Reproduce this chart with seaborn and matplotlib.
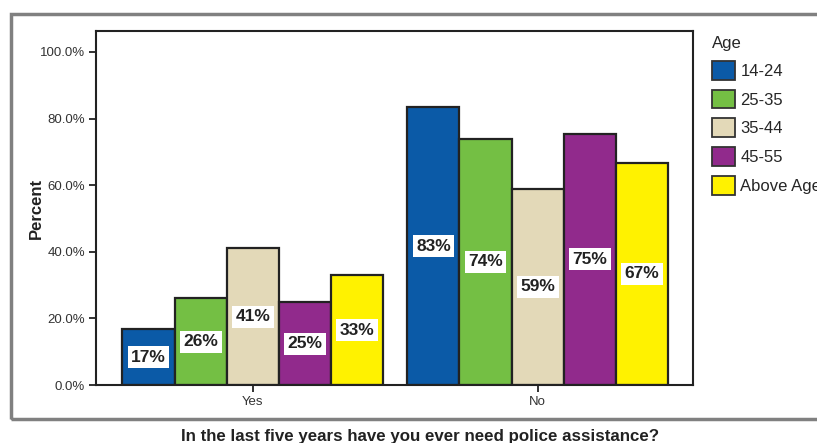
import pandas as pd
import numpy as np
import matplotlib.pyplot as plt
import seaborn as sns
from matplotlib.patches import Patch, Rectangle

answers = ['Yes', 'No']
ages = ['14-24', '25-35', '35-44', '45-55', 'Above Age']
yes_pct = [16.7, 26.1, 41.1, 24.9, 33.0]
no_pct = [83.4, 73.9, 58.9, 75.4, 66.7]
colors = ['#0b5aa7', '#74bf44', '#e3d9b8', '#912a8c', '#fff200']

df = pd.DataFrame({
    'answer': ['Yes'] * 5 + ['No'] * 5,
    'age': ages * 2,
    'percent': yes_pct + no_pct,
})

sns.set_style('white')
plt.rcParams['font.family'] = ['Liberation Sans', 'DejaVu Sans']

fig = plt.figure(figsize=(8.17, 4.43), dpi=100)
ax = fig.add_axes([96 / 817, 1 - 385 / 443, (693 - 96) / 817, (385 - 31) / 443])

sns.barplot(data=df, x='answer', y='percent', hue='age', order=answers,
            hue_order=ages, palette=colors, width=0.916, gap=0,
            edgecolor='#222222', linewidth=1.6, saturation=1, legend=False, ax=ax)

for cont in ax.containers:
    labels = ['%d%%' % round(b.get_height()) for b in cont]
    ax.bar_label(cont, labels=labels, label_type='center', fontsize=12.5,
                 fontweight='bold', color='#222222',
                 bbox=dict(facecolor='white', edgecolor='none', pad=2.5))

ax.set_xlim(-0.551, 1.545)
ax.set_ylim(0, 106.3)
ax.set_yticks([0, 20, 40, 60, 80, 100])
ax.set_yticklabels(['%.1f%%' % v for v in [0, 20, 40, 60, 80, 100]])
ax.tick_params(axis='both', direction='out', length=5, width=1.3, color='#222222',
               labelsize=9.5, labelcolor='#333333', left=True, bottom=True, pad=3)
ax.set_xlabel('')
ax.set_ylabel('Percent', fontsize=12, fontweight='bold', color='#222222', labelpad=-3)
for s in ax.spines.values():
    s.set_visible(True)
    s.set_color('#222222')
    s.set_linewidth(1.5)

# outer gray frame
fig.patches.append(Rectangle((11 / 817, 1 - 419 / 443), 1.0, (419 - 14) / 443,
                             transform=fig.transFigure, fill=False,
                             edgecolor='#808080', linewidth=2.5, clip_on=False))

fig.text(420 / 817, 1 - 436 / 443, 'In the last five years have you ever need police assistance?',
         ha='center', va='center', fontsize=12.2, fontweight='bold', color='#222222')

handles = [Patch(facecolor=c, edgecolor='#333333', linewidth=1.3) for c in colors]
leg = fig.legend(handles, ages, title='Age', loc='upper left',
                 bbox_to_anchor=(712 / 817, 1 - 36 / 443), frameon=False,
                 fontsize=12, title_fontsize=12, alignment='left',
                 handlelength=1.35, handleheight=1.35, labelspacing=0.6,
                 handletextpad=0.35, borderpad=0, borderaxespad=0)

fig.savefig('out.png', dpi=100)
